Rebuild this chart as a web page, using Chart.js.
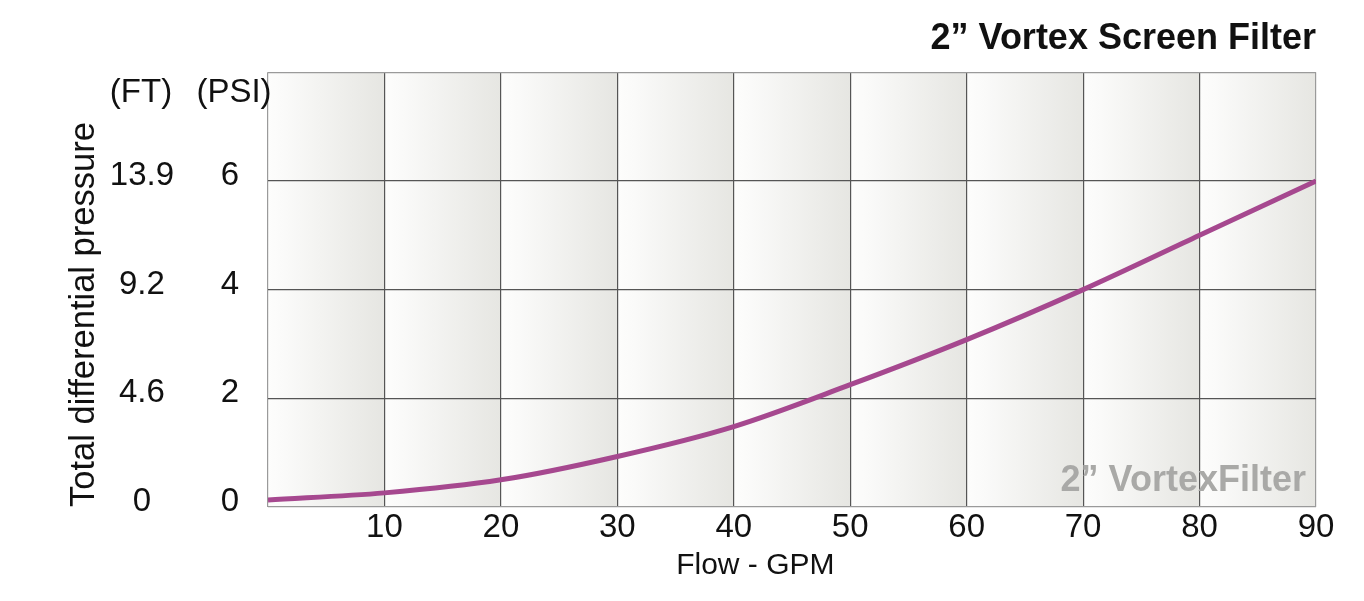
<!DOCTYPE html>
<html>
<head>
<meta charset="utf-8">
<script src="https://cdn.jsdelivr.net/npm/chart.js@4.4.0/dist/chart.umd.min.js"></script>
<style>
    html, body { margin: 0; padding: 0; background: #fff; }
    #wrap { width: 1364px; height: 601px; }
</style>
</head>
<body>
<div id="wrap"><canvas id="chart" width="1364" height="601"></canvas></div>
<script>
// flow (GPM) vs. differential pressure (PSI)
const flowGpm = [0, 10, 20, 30, 40, 50, 60, 70, 80, 90];
const pressurePsi = [0.13, 0.26, 0.50, 0.93, 1.48, 2.25, 3.08, 4.0, 5.0, 6.0];

const psiTicks = [0, 2, 4, 6, 8];
const psiLabels = ["0", "2", "4", "6", ""];
const ftLabels = ["0", "4.6", "9.2", "13.9", ""];

const TITLE = "2\u201D Vortex Screen Filter";
const WATERMARK = "2\u201D VortexFilter";
const X_TITLE = "Flow - GPM";
const FONT = "'Liberation Sans', Arial, sans-serif";

Chart.defaults.font.family = FONT;
Chart.defaults.color = "#111";

// each grid column gets a white -> light grey horizontal gradient
const cellShading = {
    id: "cellShading",
    beforeDraw(chart) {
        const { ctx, chartArea: a, scales: { x } } = chart;
        ctx.save();
        for (let i = 0; i < flowGpm.length - 1; i++) {
            const x0 = x.getPixelForValue(flowGpm[i]);
            const x1 = x.getPixelForValue(flowGpm[i + 1]);
            const g = ctx.createLinearGradient(x0, 0, x1, 0);
            g.addColorStop(0, "#fdfdfc");
            g.addColorStop(0.15, "#fafaf9");
            g.addColorStop(1, "#e6e6e2");
            ctx.fillStyle = g;
            ctx.fillRect(x0, a.top, x1 - x0, a.bottom - a.top);
        }
        ctx.restore();
    },
};

const extraText = {
    id: "extraText",
    beforeDatasetsDraw(chart) {
        const { ctx, chartArea: a } = chart;
        ctx.save();
        ctx.font = `bold 36px ${FONT}`;
        ctx.fillStyle = "#a9a9a7";
        ctx.textAlign = "right";
        ctx.textBaseline = "middle";
        ctx.fillText(WATERMARK, a.right - 10, a.bottom - 26);
        ctx.restore();
    },
    afterDraw(chart) {
        const { ctx, chartArea: a, scales } = chart;
        ctx.save();
        ctx.fillStyle = "#111";
        ctx.textAlign = "center";
        ctx.textBaseline = "middle";
        ctx.font = `33px ${FONT}`;
        const ft = scales.yFt, psi = scales.y;
        ctx.fillText("(FT)", ft.right - 51, 93);
        ctx.fillText("(PSI)", psi.left + 42, 93);
        ctx.font = `30px ${FONT}`;
        ctx.fillText(X_TITLE, a.left + (a.right - a.left) * 0.465, 566);
        ctx.restore();
    },
};

new Chart(document.getElementById("chart"), {
    type: "line",
    data: {
        datasets: [{
            data: flowGpm.map((f, i) => ({ x: f, y: pressurePsi[i] })),
            borderColor: "#a6488f",
            borderWidth: 5,
            pointRadius: 0,
            cubicInterpolationMode: "monotone",
            fill: false,
        }],
    },
    options: {
        responsive: false,
        animation: false,
        layout: { padding: { left: 48, right: 48, top: 0, bottom: 0 } },
        plugins: {
            legend: { display: false },
            tooltip: { enabled: false },
            title: {
                display: true,
                text: TITLE,
                align: "end",
                color: "#111",
                font: { size: 36, weight: "bold" },
                padding: { top: 17, bottom: 12 },
            },
        },
        scales: {
            x: {
                type: "linear",
                min: 0,
                max: 90,
                afterFit: s => { s.height = 94; },
                afterBuildTicks: s => { s.ticks = flowGpm.map(v => ({ value: v })); },
                ticks: {
                    padding: 1,
                    font: { size: 33 },
                    callback: v => (v === 0 ? "" : String(v)),
                },
                grid: {
                    drawTicks: false,
                    color: c => (c.tick && (c.tick.value === 0 || c.tick.value === 90) ? "#9a9a9a" : "#555"),
                    lineWidth: 1.2,
                },
                border: { display: false },
            },
            y: {
                position: "left",
                weight: 0,
                min: 0,
                max: 8,
                afterFit: s => { s.width = 76; },
                afterBuildTicks: s => { s.ticks = psiTicks.map(v => ({ value: v })); },
                ticks: {
                    crossAlign: "center",
                    padding: 29,
                    labelOffset: -5,
                    font: { size: 33 },
                    callback: (v, i) => psiLabels[i],
                },
                grid: {
                    drawTicks: false,
                    color: c => (c.tick && (c.tick.value === 0 || c.tick.value === 8) ? "#9a9a9a" : "#555"),
                    lineWidth: 1.2,
                },
                border: { display: false },
            },
            yFt: {
                position: "left",
                weight: 1,
                min: 0,
                max: 8,
                afterFit: s => { s.width = 144; },
                afterBuildTicks: s => { s.ticks = psiTicks.map(v => ({ value: v })); },
                ticks: {
                    crossAlign: "center",
                    padding: 18,
                    labelOffset: -5,
                    font: { size: 33 },
                    callback: (v, i) => ftLabels[i],
                },
                grid: { display: false, drawTicks: false },
                border: { display: false },
                title: {
                    display: true,
                    text: "Total differential pressure",
                    align: "start",
                    font: { size: 34.5 },
                    color: "#111",
                    padding: { top: 16, bottom: 0 },
                },
            },
        },
    },
    plugins: [cellShading, extraText],
});
</script>
</body>
</html>
